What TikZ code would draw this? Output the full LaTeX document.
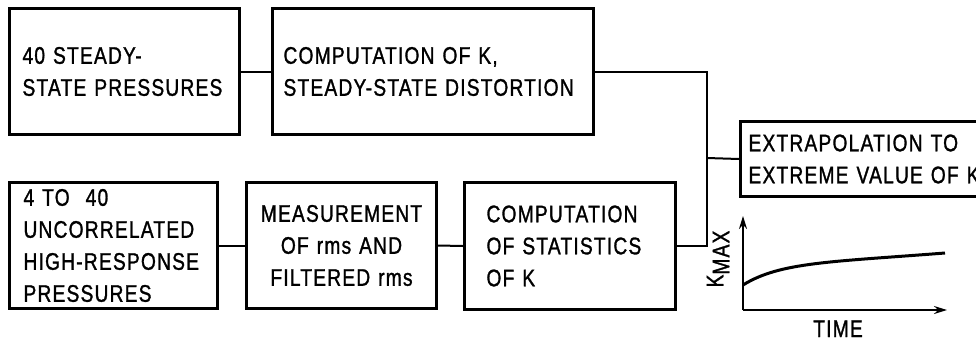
\documentclass[tikz,border=0pt]{standalone}
\usepackage{fontspec}
\setmainfont[FakeStretch=0.8, LetterSpace=5, FakeBold=1.2]{Liberation Sans}
\usetikzlibrary{arrows.meta}
\begin{document}
\begin{tikzpicture}[x=1pt,y=-1pt,
  txt/.style={font=\fontsize{24}{32}\selectfont},
  box/.style={draw, line width=3pt, anchor=north west, align=left, txt, inner ysep=0pt},
  link/.style={line width=2pt},
  axis/.style={line width=2pt, -{Stealth[length=13pt,width=8pt]}}]
\useasboundingbox (0,0) rectangle (976,341);
\clip (0,0) rectangle (976,341);
\node[box, minimum width=230, minimum height=126, inner xsep=13, text width=204] (b1) at (8,7) {40 STEADY-\\STATE PRESSURES};
\node[box, minimum width=321, minimum height=126, inner xsep=11, text width=299] (b2) at (271,7) {COMPUTATION OF K,\\STEADY-STATE DISTORTION};
\node[box, minimum width=208, minimum height=126, inner xsep=14, text width=180] (b3) at (8,181) {4 TO\ \ 40\\UNCORRELATED\\HIGH-RESPONSE\\PRESSURES};
\node[box, align=center, minimum width=190, minimum height=126, inner xsep=8, text width=174] (b4) at (245,181) {MEASUREMENT\\OF rms AND\\FILTERED rms};
\node[box, minimum width=211, minimum height=127, inner xsep=22, text width=167] (b5) at (463,181) {COMPUTATION\\OF STATISTICS\\OF K};
\node[box, minimum width=260, minimum height=75, inner xsep=8, text width=244] (ex) at (739,120) {EXTRAPOLATION TO\\EXTREME VALUE OF K};
\coordinate (j) at (707,158);
\draw[link] (b1.east) -- (b2.west);
\draw[link] (b3.east) -- (b4.west);
\draw[link] (b4.east) -- (b5.west);
\draw[link] (b2.east) -| (j);
\draw[link] (b5.east) -| (j);
\draw[link] (j) -- (ex.west);
\coordinate (o) at (743,310);
\coordinate (ytop) at (743,216);
\coordinate (xend) at (947,310);
\draw[axis] (o) -- (ytop);
\draw[axis] (o) -- (xend);
\draw[line width=3pt] (743,285) .. controls (780,262) and (830,262) .. (945,253);
\node[txt, rotate=90, inner sep=0pt] (kmax) at (718,259) {K\raisebox{-6pt}{MAX}};
\node[txt, inner sep=0pt, anchor=base] (time) at (838,337) {TIME};
\end{tikzpicture}
\end{document}
